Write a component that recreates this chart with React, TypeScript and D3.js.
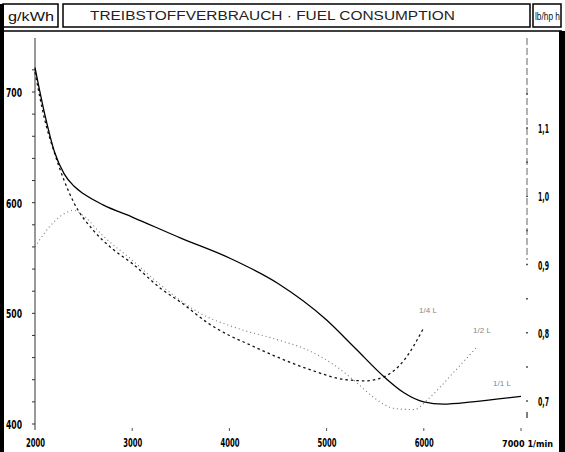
import React from "react";
import * as d3 from "d3";

const rpmTicks = [2000, 3000, 4000, 5000, 6000, 7000];
const gTicks = [400, 500, 600, 700];
const lbTicks = [0.7, 0.8, 0.9, 1.0, 1.1];
const rpmUnit = "1/min";

// full throttle (solid)
const fullRpm = [2000, 2100, 2200, 2300, 2400, 2500, 2700, 3000, 3500, 4000, 4500, 5000, 5300, 5600, 5800, 6000, 6200, 6500, 7000];
const fullVal = [722, 680, 646, 626, 615, 608, 598, 587, 568, 550, 527, 494, 468, 442, 428, 420, 418, 420, 425];

// quarter throttle (dashed)
const quarterRpm = [2000, 2100, 2200, 2300, 2400, 2600, 2800, 3000, 3300, 3500, 3800, 4000, 4200, 4400, 4800, 5200, 5400, 5600, 5800, 6000];
const quarterVal = [718, 675, 645, 620, 600, 575, 558, 545, 522, 510, 490, 480, 472, 464, 450, 440, 439, 443, 458, 487];

// half throttle (dotted)
const halfRpm = [2000, 2100, 2200, 2300, 2400, 2500, 2700, 3000, 3300, 3700, 4100, 4500, 4800, 5100, 5300, 5500, 5700, 5900, 6050, 6300, 6550];
const halfVal = [560, 573, 583, 590, 593, 588, 570, 548, 525, 500, 486, 476, 467, 452, 438, 423, 414, 413, 423, 446, 470];

const curveLabels = ["1/4 L", "1/2 L", "1/1 L"];

const narrow = "'Liberation Sans Narrow', 'Liberation Sans', sans-serif";
const heavy = "'DejaVu Sans', sans-serif";

export default function App() {
  const x = d3.scaleLinear().domain([2000, 7000]).range([35, 521]);
  const y = d3.scaleLinear().domain([400, 700]).range([424, 92]);
  const yR = d3.scaleLinear().domain([0.7, 1.1]).range([401, 128]);

  const line = (rs: number[], vs: number[]) =>
    d3.line<number>().x((_, i) => x(rs[i])).y((v) => y(v)).curve(d3.curveMonotoneX)(vs) || "";

  const minor = d3.range(400, 721, 20);
  const rightMinor = d3.range(0.7, 1.16, 0.05);
  const lastTick = rpmTicks[rpmTicks.length - 1];

  return (
    <svg width={565} height={452} style={{ position: "absolute", left: 0, top: 0, background: "#fff" }}>
      {/* header boxes */}
      <rect x={3} y={4} width={55} height={23} fill="none" stroke="#000" strokeWidth={1.5} />
      <rect x={63} y={4} width={467} height={23} fill="none" stroke="#000" strokeWidth={1.5} />
      <rect x={533} y={4} width={28} height={23} fill="none" stroke="#000" strokeWidth={1.5} />
      <text x={8} y={21} fontFamily={narrow} fontSize={13} textLength={46} lengthAdjust="spacingAndGlyphs" fill="#111">g/kWh</text>
      <text x={90} y={20} fontFamily={narrow} fontSize={12} textLength={365} lengthAdjust="spacingAndGlyphs" fill="#222">TREIBSTOFFVERBRAUCH · FUEL CONSUMPTION</text>
      <text x={535} y={20} fontFamily={narrow} fontSize={10} textLength={25} lengthAdjust="spacingAndGlyphs" fill="#111">lb/hp h</text>

      {/* frame */}
      <line x1={3} x2={562} y1={31} y2={31} stroke="#000" strokeWidth={1.5} />
      <rect x={0} y={4} width={4} height={448} fill="#000" />
      <rect x={559} y={31} width={6} height={421} fill="#000" />

      {/* left axis */}
      <line x1={35} x2={35} y1={38} y2={430} stroke="#333" strokeWidth={1} />
      {minor.map((v) => (
        <line key={v} x1={32} x2={35} y1={y(v)} y2={y(v)} stroke="#333" strokeWidth={1} />
      ))}
      {gTicks.map((v) => (
        <text key={v} x={6} y={y(v) + 5} fontFamily={heavy} fontWeight="bold" fontSize={12} textLength={16} lengthAdjust="spacingAndGlyphs" fill="#000">{v}</text>
      ))}

      {/* right axis */}
      <line x1={527} x2={527} y1={38} y2={260} stroke="#666" strokeWidth={1} strokeDasharray="7,3" />
      {rightMinor.map((v, i) => (
        <line key={i} x1={526} x2={528} y1={yR(v)} y2={yR(v)} stroke="#555" strokeWidth={1.5} />
      ))}
      <line x1={527} x2={527} y1={412} y2={418} stroke="#555" strokeWidth={1.5} />
      {lbTicks.map((v) => (
        <text key={v} x={538} y={yR(v) + 5} fontFamily={heavy} fontWeight="bold" fontSize={12} textLength={11} lengthAdjust="spacingAndGlyphs" fill="#000">
          {v.toFixed(1).replace(".", ",")}
        </text>
      ))}

      {/* x axis ticks & labels */}
      {rpmTicks.map((r) => (
        <g key={r}>
          {r !== 2000 && <line x1={x(r)} x2={x(r)} y1={428} y2={431} stroke="#555" strokeWidth={1} />}
          {r === lastTick ? (
            <text x={502} y={447} fontFamily={heavy} fontWeight="bold" fontSize={9} textLength={51} lengthAdjust="spacingAndGlyphs" fill="#000">{`${r} ${rpmUnit}`}</text>
          ) : (
            <text x={x(r) - 9} y={447} fontFamily={heavy} fontWeight="bold" fontSize={12} textLength={19} lengthAdjust="spacingAndGlyphs" fill="#000">{r}</text>
          )}
        </g>
      ))}

      {/* curves */}
      <path d={line(halfRpm, halfVal)} fill="none" stroke="#777" strokeWidth={1.1} strokeDasharray="1,3" />
      <path d={line(quarterRpm, quarterVal)} fill="none" stroke="#111" strokeWidth={1.3} strokeDasharray="2.5,3" />
      <path d={line(fullRpm, fullVal)} fill="none" stroke="#000" strokeWidth={1.3} />

      {/* curve labels */}
      <text x={428} y={313} textAnchor="middle" fontFamily={narrow} fontSize={8} fill="#888">{curveLabels[0]}</text>
      <text x={482} y={333} textAnchor="middle" fontFamily={narrow} fontSize={8} fill="#888">{curveLabels[1]}</text>
      <text x={502} y={386} textAnchor="middle" fontFamily={narrow} fontSize={8} fill="#888">{curveLabels[2]}</text>
    </svg>
  );
}
